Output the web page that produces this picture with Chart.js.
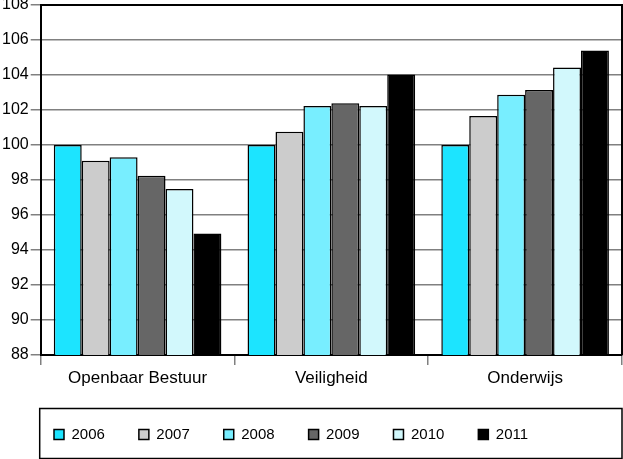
<!DOCTYPE html>
<html>
<head>
<meta charset="utf-8">
<script src="https://cdn.jsdelivr.net/npm/chart.js@4/dist/chart.umd.min.js"></script>
<style>
  html, body { margin: 0; padding: 0; background: #fff; }
  #wrap { width: 623px; height: 459px; }
</style>
</head>
<body>
<div id="wrap"><canvas id="chart"></canvas></div>
<script>
const categories = ["Openbaar Bestuur", "Veiligheid", "Onderwijs"];
const years = ["2006", "2007", "2008", "2009", "2010", "2011"];
const v2006 = [100, 100, 100];
const v2007 = [99.1, 100.76, 101.66];
const v2008 = [99.3, 102.23, 102.87];
const v2009 = [98.24, 102.39, 103.15];
const v2010 = [97.48, 102.23, 104.43];
const v2011 = [94.94, 104.03, 105.4];
const yTicks = [88, 90, 92, 94, 96, 98, 100, 102, 104, 106, 108];

const colors = ["#1CE4FF", "#CCCCCC", "#78EEFF", "#666666", "#D2F8FC", "#000000"];
const series = [v2006, v2007, v2008, v2009, v2010, v2011];

const FONT = "'Liberation Sans', Arial, sans-serif";

// frame round the plot area and box round the legend
const framePlugin = {
    id: 'frame',
    afterLayout(chart) {
        chart.legend.left = 20;
    },
    afterDraw(chart) {
        const ctx = chart.ctx;
        const a = chart.chartArea;
        ctx.save();
        ctx.strokeStyle = '#000';
        ctx.lineWidth = 2;
        ctx.beginPath();
        ctx.moveTo(a.left, a.top);
        ctx.lineTo(a.right, a.top);
        ctx.lineTo(a.right, a.bottom);
        ctx.stroke();

        const lg = chart.legend;
        const mid = lg.top + lg.options.labels.padding + 7.5;
        ctx.lineWidth = 1.5;
        ctx.strokeRect(a.left - 1, mid - 26, a.right - a.left + 1, 50);
        ctx.restore();
    }
};

new Chart(document.getElementById('chart'), {
    type: 'bar',
    data: {
        labels: categories,
        datasets: years.map((y, i) => ({
            label: y,
            data: series[i],
            backgroundColor: colors[i],
            borderColor: '#000',
            borderWidth: 1.5,
            borderSkipped: false,
            categoryPercentage: 0.865,
            barPercentage: 1
        }))
    },
    options: {
        responsive: true,
        maintainAspectRatio: false,
        animation: false,
        layout: { padding: { top: 0, right: 1, bottom: 7, left: 0 } },
        plugins: {
            tooltip: { enabled: false },
            legend: {
                position: 'bottom',
                align: 'start',
                labels: {
                    boxWidth: 10,
                    boxHeight: 10,
                    padding: 34,
                    color: '#000',
                    font: { family: FONT, size: 15 }
                }
            }
        },
        scales: {
            x: {
                grid: {
                    drawOnChartArea: false,
                    color: '#808080',
                    lineWidth: 1.5,
                    tickLength: 10
                },
                border: { color: '#000', width: 2 },
                ticks: {
                    color: '#000',
                    padding: 3,
                    font: { family: FONT, size: 17 }
                },
                afterFit: s => { s.height = 38; }
            },
            y: {
                min: 88,
                max: 108,
                afterBuildTicks: s => { s.ticks = yTicks.map(v => ({ value: v })); },
                afterFit: s => { s.paddingTop = 5; },
                grid: {
                    color: '#808080',
                    lineWidth: 1.5,
                    tickLength: 10
                },
                border: { color: '#000', width: 2 },
                ticks: {
                    color: '#000',
                    padding: 2,
                    font: { family: FONT, size: 16 }
                }
            }
        }
    },
    plugins: [framePlugin]
});
</script>
</body>
</html>
